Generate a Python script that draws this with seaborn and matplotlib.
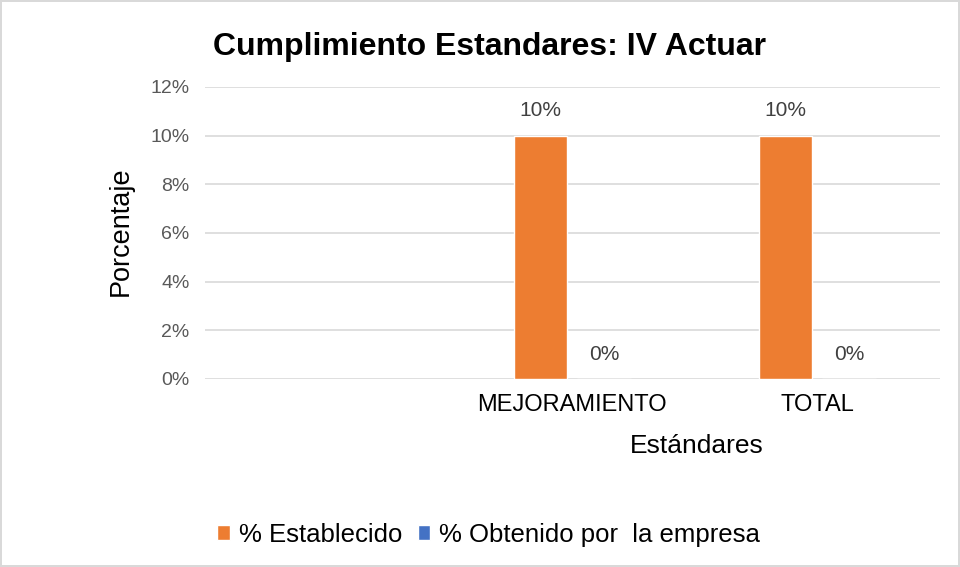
import pandas as pd
import seaborn as sns
import matplotlib.pyplot as plt
from matplotlib.ticker import PercentFormatter

# datos (la primera categoria esta vacia)
estandares = ["", "MEJORAMIENTO", "TOTAL"]
establecido = [None, 0.10, 0.10]
obtenido = [None, 0.0, 0.0]
series = ["% Establecido", "% Obtenido por  la empresa"]
colores = ["#ED7D31", "#4472C4"]

df = pd.DataFrame({
    "Estándar": estandares * 2,
    "Serie": [series[0]] * 3 + [series[1]] * 3,
    "Valor": establecido + obtenido,
})
df["Valor"] = df["Valor"].astype(float)

sns.set_theme(style="white")
plt.rcParams["font.family"] = ["Liberation Sans", "DejaVu Sans"]

fig = plt.figure(figsize=(9.6, 5.67), dpi=100, edgecolor="#d9d9d9", linewidth=1.5)
ax = fig.add_axes([0.2135, 0.3316, 0.7655, 0.515])

sns.barplot(data=df, x="Estándar", y="Valor", hue="Serie", order=estandares,
            hue_order=series, palette=colores, width=0.52, gap=0.154,
            saturation=1, ax=ax, legend=True)

for c in ax.containers:
    ax.bar_label(c, fmt=lambda v: f"{v:.0%}", padding=11, fontsize=15, color="#404040")

ax.set_ylim(0, 0.12)
ax.set_yticks([0, 0.02, 0.04, 0.06, 0.08, 0.10, 0.12])
ax.yaxis.set_major_formatter(PercentFormatter(1.0, decimals=0))
ax.grid(axis="y", color="#d9d9d9", linewidth=1.2)
ax.set_axisbelow(True)
for s in ax.spines.values():
    s.set_visible(False)
ax.tick_params(axis="y", labelsize=14, labelcolor="#595959", pad=11, length=0)
ax.tick_params(axis="x", labelsize=17, labelcolor="#000000", pad=11, length=0)

ax.set_ylabel("Porcentaje", fontsize=19.5, color="#000000")
ax.yaxis.set_label_coords(-0.097, 0.505)
ax.set_xlabel("Estándares", fontsize=19, color="#000000")
ax.xaxis.set_label_coords(0.669, -0.19)

fig.text(0.51, 0.917, "Cumplimiento Estandares: IV Actuar", ha="center", va="center",
         fontsize=23, fontweight="bold", color="#000000")

h, l = ax.get_legend_handles_labels()
ax.get_legend().remove()
fig.legend(h, l, loc="center", bbox_to_anchor=(0.509, 0.057), ncol=2, frameon=False,
           fontsize=18.5, handlelength=0.5, handleheight=0.5, columnspacing=0.6,
           handletextpad=0.35, labelcolor="#000000")

fig.savefig("out.png", dpi=100, edgecolor=fig.get_edgecolor())
